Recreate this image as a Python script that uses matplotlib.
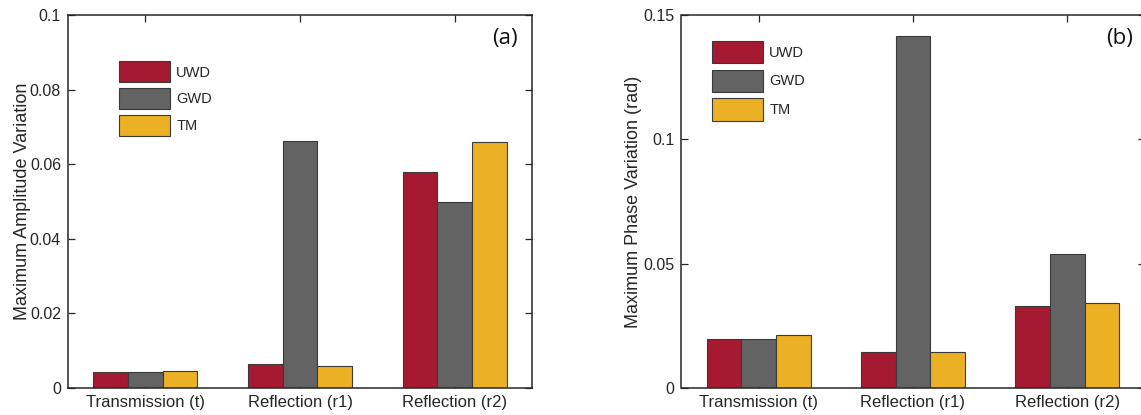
import numpy as np
import matplotlib
matplotlib.use("Agg")
import matplotlib.pyplot as plt

# Data
categories = ["Transmission (t)", "Reflection (r1)", "Reflection (r2)"]
series_names = ["UWD", "GWD", "TM"]

amp_uwd = [0.0044, 0.0065, 0.0579]
amp_gwd = [0.0044, 0.0662, 0.0499]
amp_tm = [0.0045, 0.0058, 0.0660]

phase_uwd = [0.0196, 0.0145, 0.0330]
phase_gwd = [0.0198, 0.1416, 0.0539]
phase_tm = [0.0213, 0.0145, 0.0342]

amp_yticks = [0, 0.02, 0.04, 0.06, 0.08, 0.1]
amp_yticklabels = ["0", "0.02", "0.04", "0.06", "0.08", "0.1"]
phase_yticks = [0, 0.05, 0.1, 0.15]
phase_yticklabels = ["0", "0.05", "0.1", "0.15"]

colors = ["#A51A30", "#636363", "#EBB023"]
edge = "#3a3a3a"
text_color = "#262626"

plt.rcParams["font.family"] = ["Liberation Sans", "DejaVu Sans"]

W, H = 1141, 415
fig = plt.figure(figsize=(W / 100, H / 100), dpi=100)


def px_axes(left, top, width, height):
    return fig.add_axes([left / W, 1 - (top + height) / H, width / W, height / H])


def draw_panel(ax, series, yticks, yticklabels, ylim, ylabel, ylabel_x, tag,
               tag_x, leg_anchor, leg_hh, leg_space):
    x = np.arange(1, len(categories) + 1)
    bw = 0.224
    offsets = [-bw, 0.0, bw]
    handles = []
    for vals, off, c, name in zip(series, offsets, colors, series_names):
        h = ax.bar(x + off, vals, width=bw, color=c, edgecolor=edge,
                   linewidth=0.8, label=name, zorder=2)
        handles.append(h)
    ax.set_xlim(0.5, 3.5)
    ax.set_ylim(*ylim)
    ax.set_xticks(x)
    ax.set_xticklabels(categories, fontsize=12, color=text_color)
    ax.set_yticks(yticks)
    ax.set_yticklabels(yticklabels, fontsize=11.5, color=text_color)
    ax.tick_params(direction="in", length=5, width=0.9, color=text_color,
                   top=True, right=True, pad=5)
    for s in ax.spines.values():
        s.set_linewidth(1.1)
        s.set_color(text_color)
    ax.set_ylabel(ylabel, fontsize=13, color=text_color)
    ax.yaxis.set_label_coords(ylabel_x, 0.5)
    ax.text(tag_x, 0.91, tag, transform=ax.transAxes, fontsize=16,
            family=["Open Sans", "DejaVu Sans"], color="#111111",
            ha="right", va="bottom")
    leg = ax.legend(handles=handles, loc="upper left", bbox_to_anchor=leg_anchor,
                    frameon=False, fontsize=10.5, handlelength=3.5,
                    handleheight=leg_hh, labelspacing=leg_space,
                    handletextpad=0.42, borderpad=0, borderaxespad=0)
    for t in leg.get_texts():
        t.set_color(text_color)


ax1 = px_axes(68, 15, 464, 373)
draw_panel(ax1, [amp_uwd, amp_gwd, amp_tm], amp_yticks, amp_yticklabels,
           (0, 0.1), "Maximum Amplitude Variation", -0.079, "(a)", 0.97,
           (51 / 464, 1 - 46.5 / 373), 1.82, 0.41)

ax2 = px_axes(681.5, 15, 463, 373)
draw_panel(ax2, [phase_uwd, phase_gwd, phase_tm], phase_yticks, phase_yticklabels,
           (0, 0.15), "Maximum Phase Variation (rad)", -0.085, "(b)", 0.975,
           (30.5 / 463, 1 - 26 / 373), 1.97, 0.44)

fig.savefig("out.png", dpi=100)
